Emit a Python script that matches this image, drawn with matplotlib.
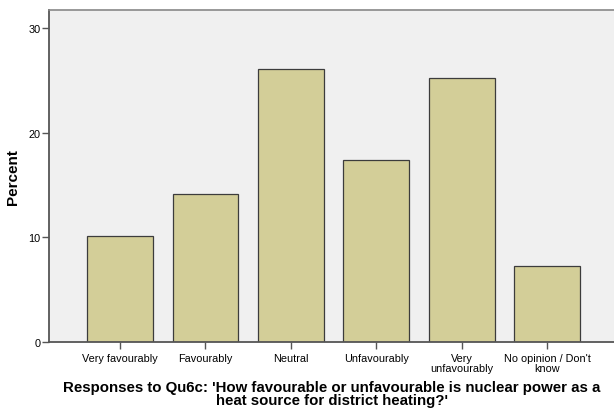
import matplotlib
matplotlib.use("Agg")
import matplotlib.pyplot as plt

categories = ["Very favourably", "Favourably", "Neutral", "Unfavourably",
              "Very\nunfavourably", "No opinion / Don't\nknow"]
percent = [10.1, 14.1, 26.1, 17.4, 25.2, 7.3]
yticks = [0, 10, 20, 30]

plt.rcParams['font.family'] = ['Liberation Sans', 'DejaVu Sans']

fig = plt.figure(figsize=(6.14, 4.14), dpi=100)
ax = fig.add_axes([49 / 614, 1 - 343 / 414, 1 - 49 / 614, 332 / 414])
ax.set_facecolor('#f0f0f0')

x = list(range(len(categories)))
ax.bar(x, percent, width=0.77, color='#d3ce98', edgecolor='#3c3c3c', linewidth=0.9, zorder=2)

ax.set_xlim(-0.83, 5.78)
ax.set_ylim(0, 31.7)
ax.set_yticks(yticks)
ax.set_xticks(x)
ax.set_xticklabels(categories, fontsize=7.8, linespacing=0.95)
ax.tick_params(axis='y', labelsize=7.8, length=5, width=1, color='#555555', pad=1)
ax.tick_params(axis='x', length=5, width=1, color='#555555', pad=3)

for side in ['left', 'bottom']:
    ax.spines[side].set_color('#555555')
    ax.spines[side].set_linewidth(1.3)
ax.spines['top'].set_color('#888888')
ax.spines['top'].set_linewidth(1.2)
ax.spines['right'].set_visible(False)

ax.set_ylabel('Percent', fontsize=11, fontweight='bold', labelpad=6)
ax.set_xlabel("Responses to Qu6c: 'How favourable or unfavourable is nuclear power as a\n"
              "heat source for district heating?'", fontsize=10.8, fontweight='bold',
              linespacing=0.93, labelpad=5)

fig.savefig('out.png', dpi=100)
